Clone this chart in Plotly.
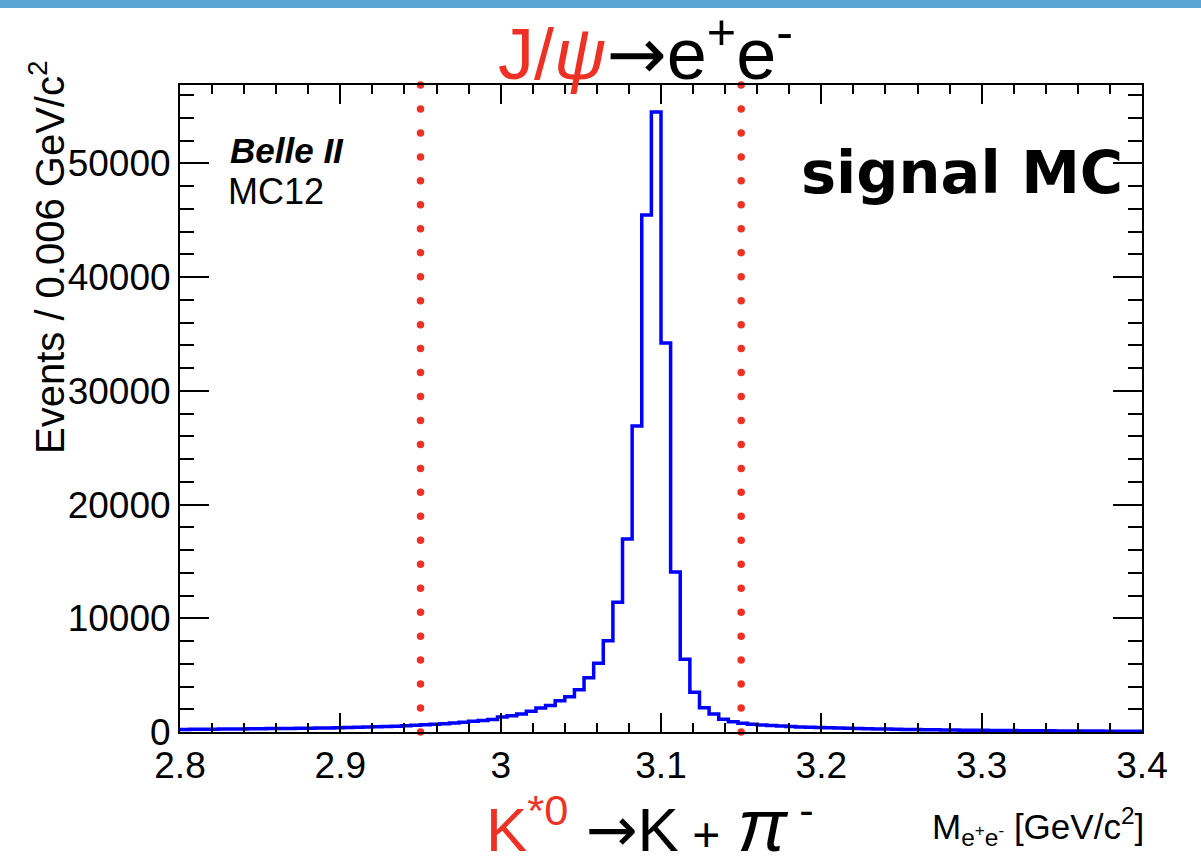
import numpy as np
import plotly.graph_objects as go

# ---- data ----
x_min, x_max, bin_width = 2.8, 3.4, 0.006
counts = [
    230, 237, 244, 251, 258, 266, 274, 282, 290, 299,
    308, 317, 327, 337, 347, 358, 370, 395, 412, 432,
    455, 480, 510, 545, 585, 630, 680, 735, 795, 860,
    935, 1015, 1110, 1320, 1430, 1580, 1820, 2110, 2340, 2750,
    3100, 3720, 4780, 6040, 8030, 11400, 16970, 26900, 45470, 54530,
    34200, 14070, 6390, 3490, 2140, 1580, 1115, 910, 760, 680,
    620, 565, 520, 480, 445, 415, 388, 365, 342, 322,
    303, 286, 270, 255, 241, 228, 216, 204, 193, 183,
    173, 164, 155, 147, 139, 132, 125, 118, 112, 106,
    100, 95, 90, 85, 81, 77, 73, 69, 65, 62,
]
cut_low, cut_high = 2.95, 3.15
y_max = 56900
x_ticks = [2.8, 2.9, 3.0, 3.1, 3.2, 3.3, 3.4]
x_tick_text = ["2.8", "2.9", "3", "3.1", "3.2", "3.3", "3.4"]
y_ticks = [0, 10000, 20000, 30000, 40000, 50000]
y_tick_text = ["0", "10000", "20000", "30000", "40000", "50000"]

# ---- layout geometry (pixels) ----
W, H = 1201, 868
L, R, T, B = 180, 1142, 85, 732
PW, PH = R - L, B - T


def px_x(px):
    return (px - L) / PW


def px_y(py):
    return (B - py) / PH


RED = "#ee3124"
BLUE = "#0000ff"
FONT = "Liberation Sans, Arial, sans-serif"

edges = x_min + bin_width * np.arange(len(counts) + 1)
xs = list(edges)
ys = list(counts) + [counts[-1]]

fig = go.Figure()
fig.add_trace(go.Scatter(x=xs, y=ys, mode="lines", line=dict(color=BLUE, width=3.5, shape="hv"),
                         hoverinfo="skip", showlegend=False))

n_dots = 28
for cx in (cut_low, cut_high):
    fig.add_trace(go.Scatter(x=[cx] * n_dots, y=np.linspace(0, y_max, n_dots), mode="markers",
                             marker=dict(color=RED, size=7.5), cliponaxis=False,
                             hoverinfo="skip", showlegend=False))

axis_common = dict(showline=True, linecolor="black", linewidth=2, mirror="allticks",
                   ticks="inside", tickcolor="black", tickwidth=2, showgrid=False, zeroline=False,
                   tickfont=dict(family=FONT, size=37, color="black"))

fig.update_xaxes(range=[x_min, x_max], tickvals=x_ticks, ticktext=x_tick_text, ticklen=19,
                 minor=dict(dtick=0.02, ticklen=9, tickcolor="black", tickwidth=2, ticks="inside"),
                 **axis_common)
fig.update_yaxes(range=[0, y_max], tickvals=y_ticks, ticktext=y_tick_text, ticklen=29,
                 minor=dict(dtick=2000, ticklen=14, tickcolor="black", tickwidth=2, ticks="inside"),
                 **axis_common)

ARROW = "<span style='font-family:DejaVu Sans'>→</span>"

annotations = [
    dict(x=px_x(645), y=px_y(50), xref="paper", yref="paper",
         text=f"<span style='color:{RED}'>J/<i>ψ</i></span>{ARROW}e<sup>+</sup>e<sup>-</sup>",
         font=dict(family=FONT, size=72, color="black"),
         showarrow=False, xanchor="center", yanchor="middle"),
    dict(x=px_x(650), y=px_y(825), xref="paper", yref="paper",
         text=(f"<span style='color:{RED}'>K<sup>*0</sup></span> {ARROW}K"
               f"<span style='font-size:48px'> +</span> <span style='font-size:74px'><i>π</i></span>"
               f"<sup> -</sup>"),
         font=dict(family=FONT, size=62, color="black"),
         showarrow=False, xanchor="center", yanchor="middle"),
    dict(x=px_x(1146), y=px_y(827), xref="paper", yref="paper",
         text="M<sub>e<sup>+</sup>e<sup>-</sup></sub> [GeV/c<sup>2</sup>]",
         font=dict(family=FONT, size=35, color="black"),
         showarrow=False, xanchor="right", yanchor="middle"),
    dict(x=px_x(47), y=px_y(58), xref="paper", yref="paper",
         text="Events / 0.006 GeV/c<sup>2</sup>", textangle=-90,
         font=dict(family=FONT, size=40, color="black"),
         showarrow=False, xanchor="center", yanchor="top"),
    dict(x=px_x(228), y=px_y(151), xref="paper", yref="paper",
         text="<b><i>Belle II</i></b>",
         font=dict(family=FONT, size=35, color="black"),
         showarrow=False, xanchor="left", yanchor="middle"),
    dict(x=px_x(226), y=px_y(191), xref="paper", yref="paper",
         text="MC12",
         font=dict(family=FONT, size=36, color="black"),
         showarrow=False, xanchor="left", yanchor="middle"),
    dict(x=px_x(1125), y=px_y(172), xref="paper", yref="paper",
         text="<b>signal MC</b>",
         font=dict(family="DejaVu Sans, " + FONT, size=59, color="black"),
         showarrow=False, xanchor="right", yanchor="middle"),
]

shapes = [
    dict(type="rect", xref="paper", yref="paper", x0=px_x(0), x1=px_x(W), y0=px_y(8), y1=px_y(0),
         fillcolor="#5aa5d2", line=dict(width=0), layer="above"),
]

fig.update_layout(
    width=W, height=H,
    margin=dict(l=L, r=W - R, t=T, b=H - B),
    plot_bgcolor="white", paper_bgcolor="white",
    annotations=annotations, shapes=shapes,
    showlegend=False,
)

fig.write_html("out.html")
